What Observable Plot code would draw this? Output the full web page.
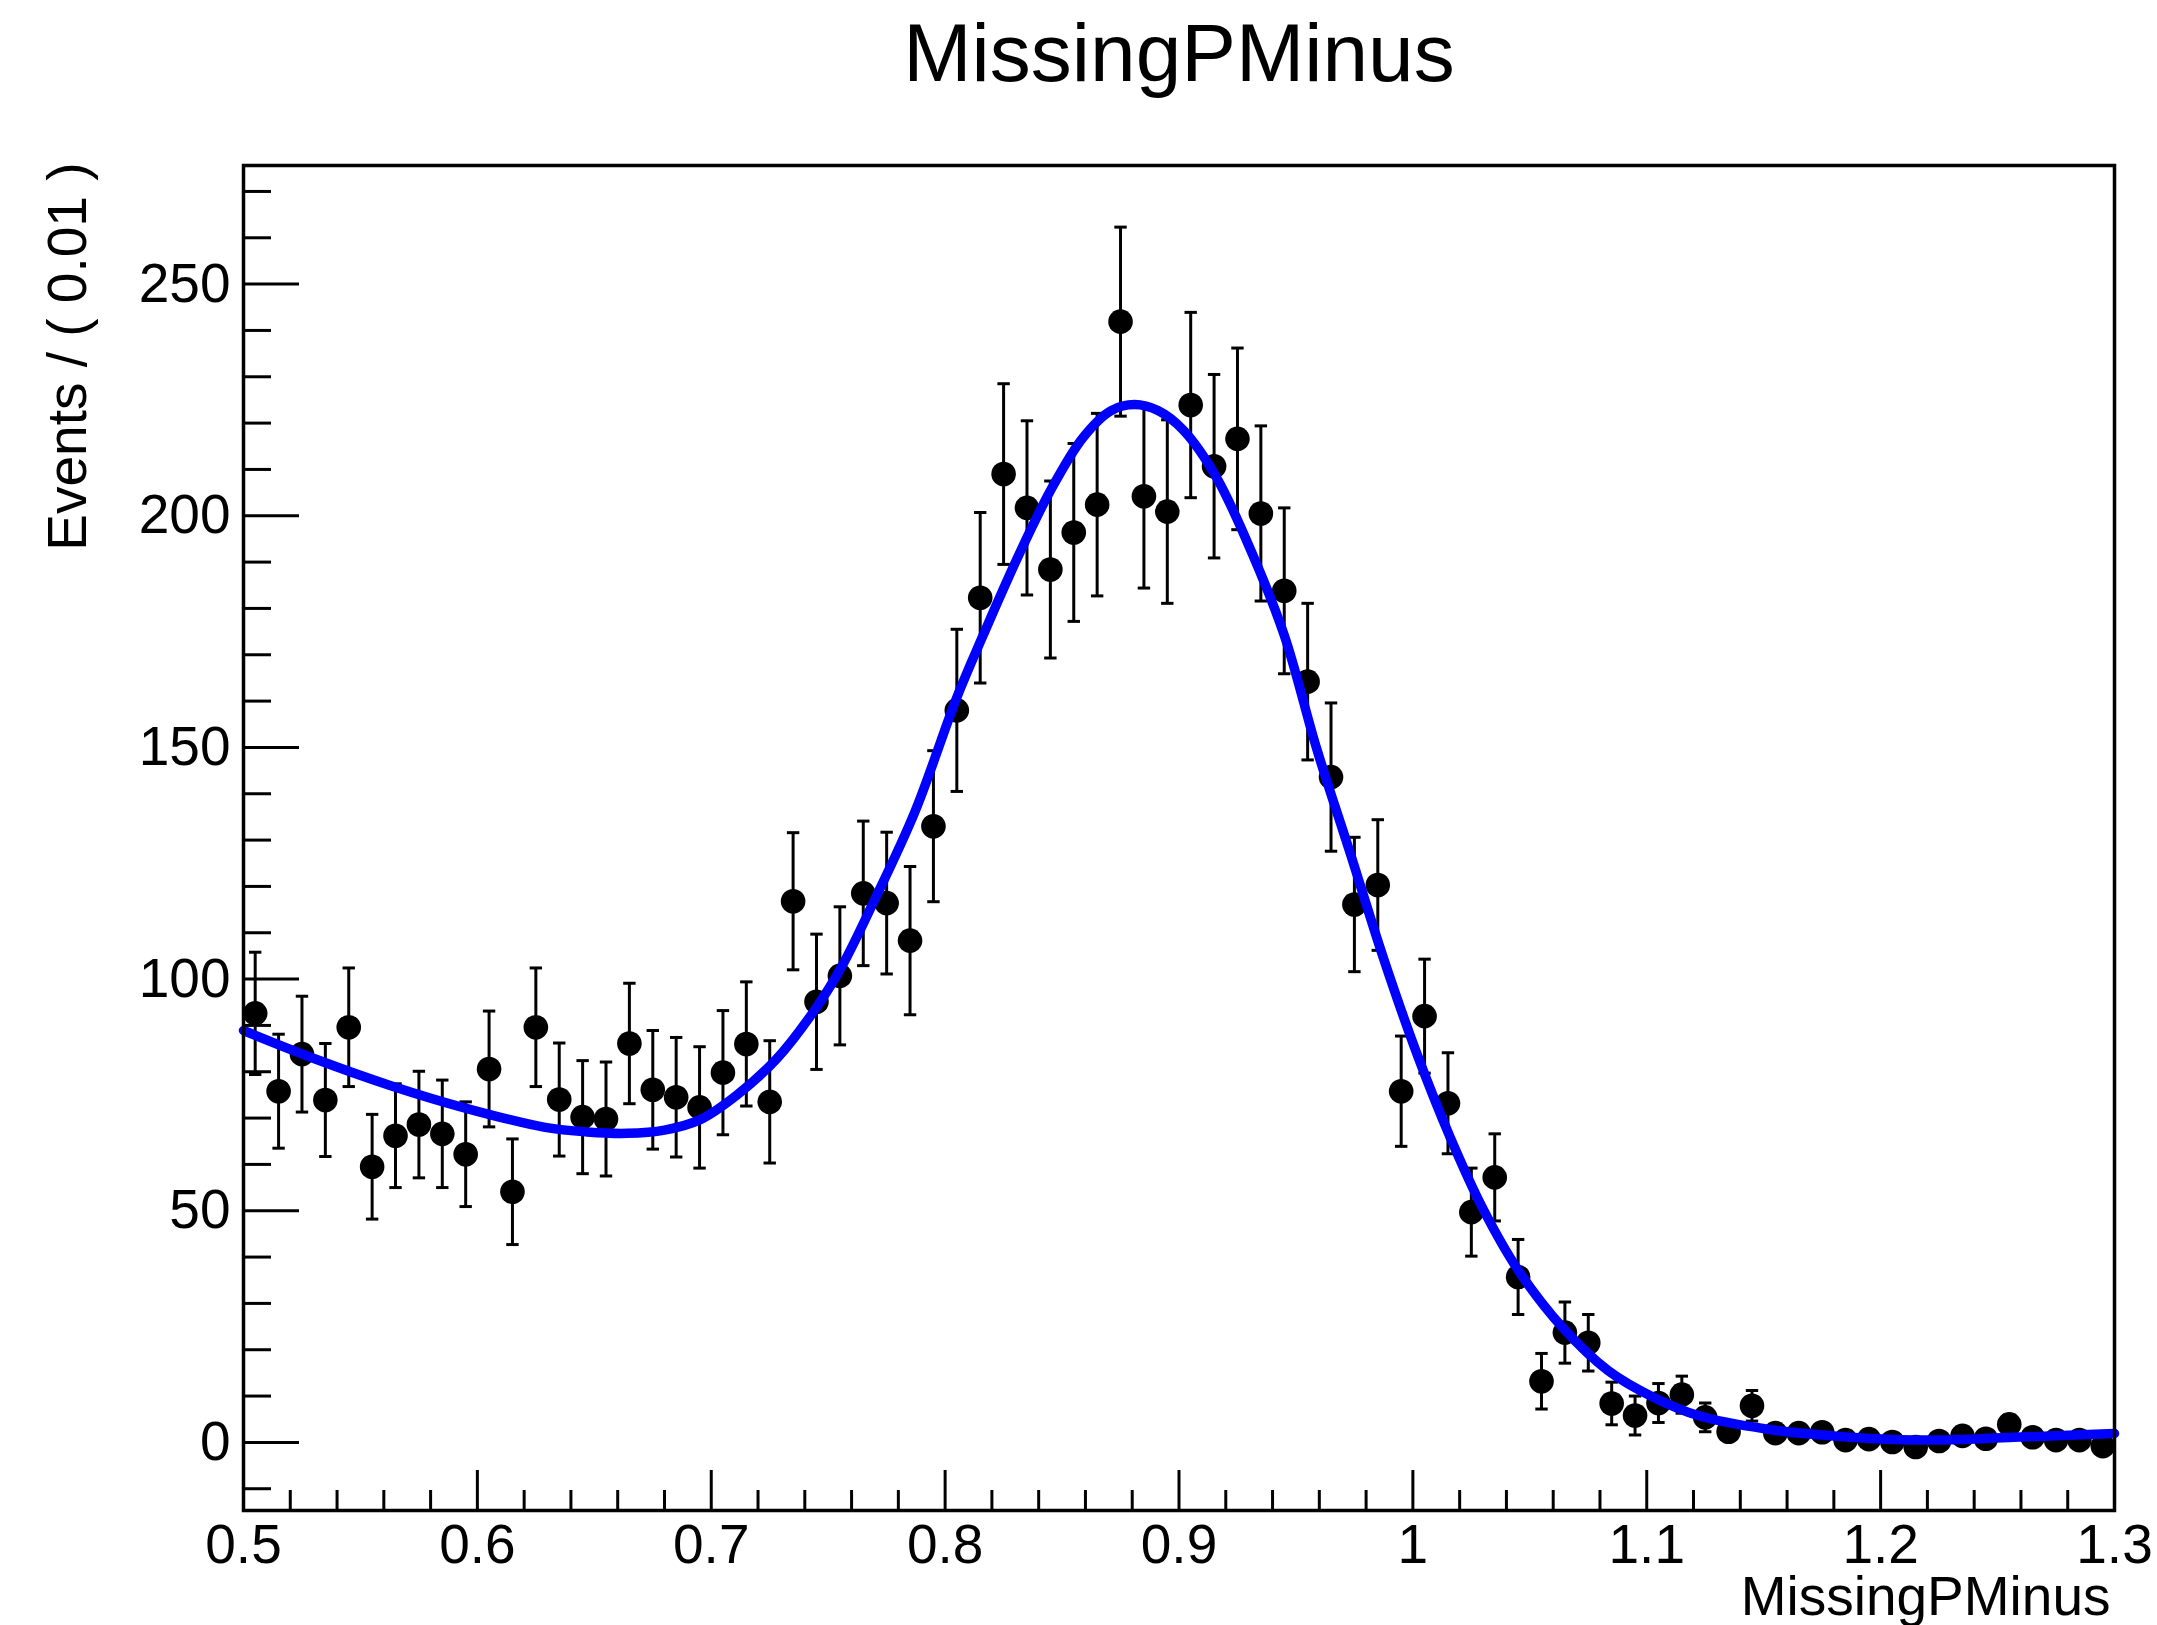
<!DOCTYPE html>
<html>
<head>
<meta charset="utf-8">
<script src="https://cdn.jsdelivr.net/npm/d3@7"></script>
<script src="https://cdn.jsdelivr.net/npm/@observablehq/plot@0.6"></script>
<style>
  html, body { margin: 0; padding: 0; background: #ffffff; overflow: hidden; }
  #chart { width: 2157px; height: 1625px; }
</style>
</head>
<body>
<div id="chart"></div>
<script>
// ---- data ----
const titleText = "MissingPMinus";
const xTitle = "MissingPMinus";
const yTitle = "Events / ( 0.01 )";

const binCenters = [
  0.505, 0.515, 0.525, 0.535, 0.545, 0.555, 0.565, 0.575, 0.585, 0.595,
  0.605, 0.615, 0.625, 0.635, 0.645, 0.655, 0.665, 0.675, 0.685, 0.695,
  0.705, 0.715, 0.725, 0.735, 0.745, 0.755, 0.765, 0.775, 0.785, 0.795,
  0.805, 0.815, 0.825, 0.835, 0.845, 0.855, 0.865, 0.875, 0.885, 0.895,
  0.905, 0.915, 0.925, 0.935, 0.945, 0.955, 0.965, 0.975, 0.985, 0.995,
  1.005, 1.015, 1.025, 1.035, 1.045, 1.055, 1.065, 1.075, 1.085, 1.095,
  1.105, 1.115, 1.125, 1.135, 1.145, 1.155, 1.165, 1.175, 1.185, 1.195,
  1.205, 1.215, 1.225, 1.235, 1.245, 1.255, 1.265, 1.275, 1.285, 1.295
];
const events = [
  92.6, 75.8, 83.8, 73.9, 89.6, 59.5, 66.2, 68.6, 66.6, 62.2,
  80.6, 54.1, 89.6, 74.0, 70.2, 69.8, 86.1, 76.1, 74.5, 72.3,
  79.8, 86.0, 73.5, 116.8, 95.1, 100.7, 118.5, 116.4, 108.3, 133.0,
  158.0, 182.3, 209.0, 201.7, 188.4, 196.4, 202.4, 241.9, 204.2, 200.9,
  223.9, 210.7, 216.6, 200.5, 183.8, 164.2, 143.6, 116.1, 120.3, 75.8,
  92.0, 73.2, 49.7, 57.2, 35.7, 13.2, 23.7, 21.5, 8.4, 5.8,
  8.5, 10.3, 5.4, 2.3, 7.9, 2.0, 2.0, 2.2, 0.5, 0.7,
  0.1, -1.0, 0.3, 1.4, 0.8, 3.9, 1.1, 0.5, 0.5, -0.8
];
const errors = [
  13.2, 12.3, 12.5, 12.2, 12.8, 11.3, 11.2, 11.5, 11.6, 11.3,
  12.5, 11.4, 12.8, 12.2, 12.2, 12.3, 13.0, 12.8, 12.9, 13.1,
  13.4, 13.4, 13.2, 14.8, 14.6, 14.9, 15.6, 15.3, 16.0, 16.3,
  17.5, 18.4, 19.5, 18.8, 19.1, 19.2, 19.7, 20.4, 19.8, 19.8,
  20.0, 19.8, 19.6, 18.9, 17.9, 16.9, 16.0, 14.5, 14.1, 11.9,
  12.3, 10.9, 9.5, 9.4, 8.1, 6.0, 6.6, 6.1, 4.6, 4.2,
  4.2, 4.0, 3.1, 1.8, 3.3, 1.6, 1.6, 1.7, 1.0, 0.9,
  0.7, 0.8, 0.6, 1.2, 0.9, 2.0, 1.1, 0.7, 0.7, 0.9
];

// fitted curve
const fitX = [
  0.500, 0.531, 0.563, 0.596, 0.629, 0.647, 0.664, 0.680, 0.695, 0.711, 0.728,
  0.745, 0.756, 0.769, 0.787, 0.805, 0.8165, 0.831, 0.845, 0.859, 0.871,
  0.881, 0.891, 0.902, 0.916, 0.931, 0.945, 0.959, 0.973, 0.9875, 1.002,
  1.016, 1.030, 1.045, 1.064, 1.0835, 1.103, 1.122, 1.151, 1.180, 1.218,
  1.257, 1.300
];
const fitY = [
  88.9, 82.7, 77.0, 72.0, 68.0, 67.0, 66.7, 67.4, 69.6, 75.0, 82.8,
  93.9, 102.9, 116.2, 136.0, 160.8, 174.5, 191.0, 205.4, 216.9, 222.7,
  224.0, 222.7, 218.4, 208.3, 192.2, 174.2, 149.5, 127.5, 104.4, 83.5,
  65.8, 50.4, 37.2, 24.8, 15.5, 9.7, 5.8, 2.9, 1.4, 0.5,
  1.1, 1.9
];

// axes
const xDomain = [0.5, 1.3];
const yDomain = [-14.7, 275.6];
const xTicks = [0.5, 0.6, 0.7, 0.8, 0.9, 1.0, 1.1, 1.2, 1.3];
const xMinorTicks = [0.52, 0.54, 0.56, 0.58, 0.62, 0.64, 0.66, 0.68, 0.72, 0.74, 0.76, 0.78,
  0.82, 0.84, 0.86, 0.88, 0.92, 0.94, 0.96, 0.98, 1.02, 1.04, 1.06, 1.08,
  1.12, 1.14, 1.16, 1.18, 1.22, 1.24, 1.26, 1.28];
const yTicks = [0, 50, 100, 150, 200, 250];
const yMinorTicks = [-10, 10, 20, 30, 40, 60, 70, 80, 90, 110, 120, 130, 140, 160, 170, 180, 190,
  210, 220, 230, 240, 260, 270];

// ---- build ----
const points = binCenters.map((x, i) => ({x, y: events[i], err: errors[i]}));
const fit = fitX.map((x, i) => ({x, y: fitY[i]}));

const capSymbol = {
  draw(context, size) {
    const r = Math.sqrt(size / Math.PI);
    context.moveTo(-r, 0);
    context.lineTo(r, 0);
  }
};

const font = "'Liberation Sans', Arial, Helvetica, sans-serif";
const labelSize = 55;

const chart = Plot.plot({
  width: 2157,
  height: 1625,
  marginLeft: 243,
  marginRight: 43,
  marginTop: 165,
  marginBottom: 115,
  style: {fontFamily: font, background: "#ffffff", color: "#000000", overflow: "visible"},
  x: {domain: xDomain},
  y: {domain: yDomain},
  marks: [
    // error bars
    Plot.ruleX(points, {x: "x", y1: d => d.y - d.err, y2: d => d.y + d.err, stroke: "#000", strokeWidth: 3}),
    Plot.dot(points, {x: "x", y: d => d.y + d.err, symbol: capSymbol, r: 6.2, fill: "none", stroke: "#000", strokeWidth: 3}),
    Plot.dot(points, {x: "x", y: d => d.y - d.err, symbol: capSymbol, r: 6.2, fill: "none", stroke: "#000", strokeWidth: 3}),
    // markers
    Plot.dot(points, {x: "x", y: "y", r: 12.3, fill: "#000", stroke: "none"}),
    // fit curve
    Plot.line(fit, {x: "x", y: "y", stroke: "#0000ff", strokeWidth: 9.5, curve: "catmull-rom"}),
    // frame
    Plot.frame({stroke: "#000", strokeWidth: 3.5}),
    // x axis ticks (inward) and labels
    Plot.axisX(xMinorTicks, {tickSize: -20, fill: "none", strokeWidth: 3}),
    Plot.axisX(xTicks, {tickSize: -40, fill: "none", strokeWidth: 3}),
    Plot.axisX(xTicks, {tickSize: 0, tickPadding: 13, label: null, fontSize: labelSize,
      tickFormat: d => String(+d.toFixed(1))}),
    // y axis ticks (inward) and labels
    Plot.axisY(yMinorTicks, {tickSize: -28, fill: "none", strokeWidth: 3}),
    Plot.axisY(yTicks, {tickSize: -56, fill: "none", strokeWidth: 3}),
    Plot.axisY(yTicks, {tickSize: 0, tickPadding: 13, label: null, fontSize: labelSize,
      tickFormat: d => String(d)}),
    // titles
    Plot.text([titleText], {frameAnchor: "top", text: d => d, lineAnchor: "bottom", dy: -85, fontSize: 82, fill: "#000"}),
    Plot.text([xTitle], {frameAnchor: "bottom-right", text: d => d, textAnchor: "end", lineAnchor: "bottom", dx: -4, dy: 104, fontSize: labelSize, fill: "#000"}),
    Plot.text([yTitle], {frameAnchor: "top-left", text: d => d, rotate: -90, textAnchor: "end", lineAnchor: "bottom", dx: -158, dy: -3, fontSize: labelSize, fill: "#000"})
  ]
});

document.getElementById("chart").appendChild(chart);
</script>
</body>
</html>
